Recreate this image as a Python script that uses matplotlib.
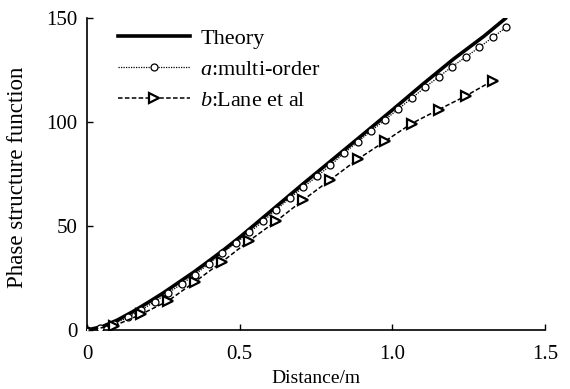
import numpy as np
import matplotlib
matplotlib.use('Agg')
import matplotlib.pyplot as plt

plt.rcParams['font.family'] = ['Liberation Serif', 'DejaVu Serif']
plt.rcParams['mathtext.fontset'] = 'custom'
plt.rcParams['mathtext.it'] = 'Liberation Serif:italic'
plt.rcParams['mathtext.rm'] = 'Liberation Serif'

## theory curve
theory_x = [0, 0.05, 0.1, 0.15, 0.2, 0.25, 0.3, 0.35, 0.4, 0.45, 0.5,
            0.6, 0.7, 0.8, 0.9, 1.0, 1.1, 1.2, 1.3, 1.37]
theory_y = [0, 1.6, 4.8, 8.8, 13.2, 17.8, 22.8, 27.8, 33.2, 38.7, 44.5,
            56.8, 69.2, 81.3, 93.4, 105.6, 118.0, 130.0, 141.0, 149.5]

## a: multi-order, step ~0.0443
multi_x = [0, 0.044, 0.089, 0.133, 0.177, 0.222, 0.266, 0.310, 0.354, 0.399,
           0.443, 0.487, 0.532, 0.576, 0.620, 0.664, 0.709, 0.753, 0.797, 0.842,
           0.886, 0.930, 0.975, 1.019, 1.063, 1.108, 1.152, 1.196, 1.241, 1.285,
           1.329, 1.373]
multi_y = [0, 0.9, 3.0, 6.0, 9.6, 13.6, 17.8, 22.1, 26.6, 31.8,
           36.9, 41.7, 46.8, 52.1, 57.7, 63.3, 68.6, 73.7, 79.0, 84.9,
           90.2, 95.5, 100.8, 106.0, 111.2, 116.6, 121.5, 126.4, 131.1, 135.7,
           140.5, 145.3]

## b: Lane et al, step ~0.0886
lane_x = [0, 0.089, 0.177, 0.266, 0.354, 0.443, 0.532, 0.620, 0.709, 0.797,
          0.886, 0.975, 1.063, 1.152, 1.240, 1.329]
lane_y = [0, 2.0, 7.5, 14.0, 23.2, 32.8, 42.9, 52.3, 62.5, 72.1,
          81.9, 90.5, 99.1, 105.8, 112.3, 119.7]

fig = plt.figure(figsize=(5.7, 3.89), dpi=100)
ax = fig.add_axes([0.1526, 0.1517, 0.8035, 0.8033])

ax.plot(theory_x, theory_y, c='black', lw=2.6, label='Theory', zorder=3)
ax.plot(multi_x, multi_y, c='black', lw=0.9, ls=(0, (1, 1)), marker='o', ms=5,
        mfc='white', mec='black', mew=0.9, label='$a$:multi-order', zorder=4)
ax.plot(lane_x, lane_y, c='black', lw=1.1, ls=(0, (3, 1.5)), marker='>', ms=6.5,
        mfc='white', mec='black', mew=1.6, label='$b$:Lane et al', zorder=4)

ax.set_xlim(0, 1.5)
ax.set_ylim(0, 150)
ax.set_xticks([0, 0.5, 1.0, 1.5])
ax.set_xticklabels(['0', '0.5', '1.0', '1.5'])
ax.set_yticks([0, 50, 100, 150])
ax.tick_params(direction='in', length=4, width=1, labelsize=15)
ax.tick_params(axis='x', pad=11)
ax.tick_params(axis='y', pad=7)
ax.spines['top'].set_visible(False)
ax.spines['right'].set_visible(False)
ax.spines['left'].set_linewidth(1.2)
ax.spines['bottom'].set_linewidth(1.2)

ax.set_xlabel('Distance/m', fontsize=14, labelpad=4)
ax.set_ylabel('Phase structure function', fontsize=16.5)
ax.yaxis.set_label_coords(-0.128, 0.49)

ax.legend(loc='upper left', bbox_to_anchor=(0.048, 0.995), borderaxespad=0,
          frameon=False, numpoints=1, handlelength=3.25, fontsize=16,
          labelspacing=0.47, handletextpad=0.45)

fig.savefig('out.png', dpi=100)
